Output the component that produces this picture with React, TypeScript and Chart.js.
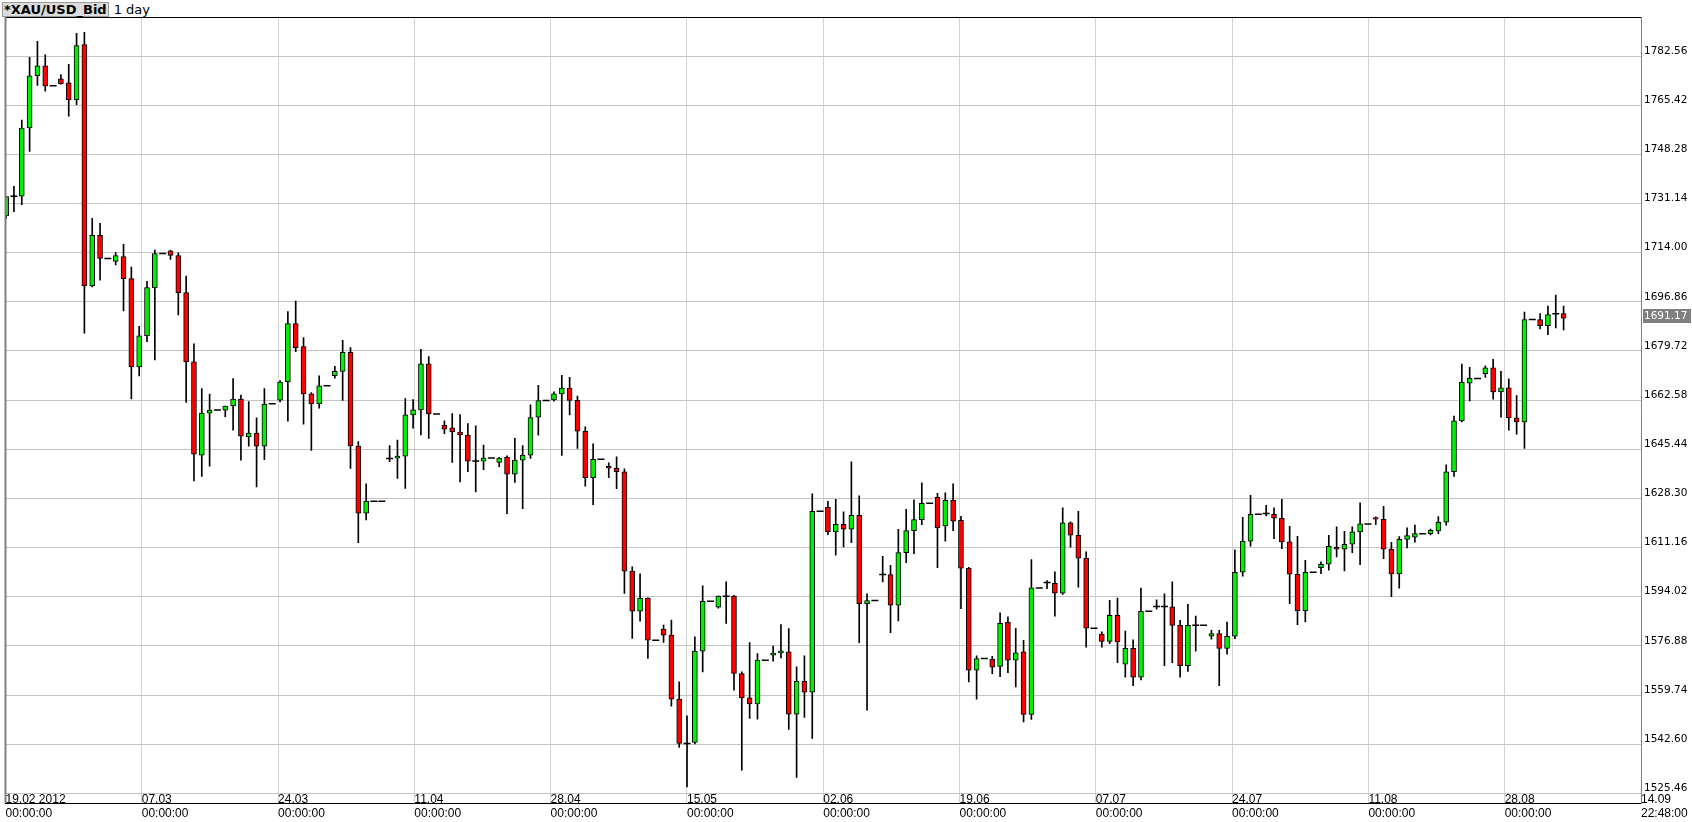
import React, { useEffect, useRef } from "react";
import { Chart, registerables } from "chart.js";

Chart.register(...registerables);

// ---- data: one candle per calendar day, starting 19.02.2012 (index 0) ----
const opens = [
  1726.79, 1733.67, 1733.67, 1757.47, 1775.68, 1779.18, 1772.18, 1774.63, 1773.23, 1767.27,
  1786.53, 1702.40, 1720.02, 1711.97, 1710.92, 1712.67, 1704.97, 1674.16, 1685.01, 1701.82,
  1713.72, 1714.65, 1713.02, 1700.07, 1675.91, 1643.36, 1658.06, 1659.11, 1659.11, 1660.51,
  1662.96, 1649.78, 1651.06, 1646.51, 1661.33, 1662.58, 1668.97, 1689.28, 1681.22, 1664.77,
  1661.27, 1667.57, 1671.07, 1672.59, 1679.24, 1646.57, 1623.12, 1627.32, 1627.32, 1642.25,
  1642.37, 1643.07, 1657.42, 1659.17, 1675.27, 1657.77, 1653.81, 1652.87, 1651.47, 1650.42,
  1641.32, 1641.32, 1642.37, 1640.85, 1642.72, 1636.77, 1641.67, 1643.42, 1656.61, 1662.44,
  1662.67, 1664.77, 1666.80, 1662.50, 1651.71, 1635.56, 1641.95, 1639.51, 1638.82, 1637.54,
  1602.91, 1588.97, 1593.50, 1578.86, 1582.69, 1580.60, 1558.29, 1542.83, 1543.18, 1575.02,
  1592.45, 1590.36, 1594.20, 1594.20, 1567.24, 1558.75, 1556.66, 1571.89, 1573.63, 1574.44,
  1574.79, 1553.06, 1564.57, 1560.73, 1623.83, 1625.22, 1616.61, 1619.28, 1617.54, 1622.42,
  1591.61, 1592.66, 1601.73, 1601.73, 1591.03, 1609.40, 1617.07, 1620.91, 1626.61, 1628.70,
  1618.70, 1627.65, 1620.68, 1603.94, 1568.36, 1572.43, 1572.20, 1569.75, 1585.10, 1571.85,
  1574.76, 1553.01, 1597.08, 1598.94, 1598.70, 1595.22, 1619.75, 1615.45, 1607.42, 1583.01,
  1581.03, 1578.47, 1587.54, 1570.50, 1576.00, 1566.00, 1588.94, 1590.57, 1590.57, 1590.45,
  1584.05, 1570.00, 1584.05, 1584.05, 1580.22, 1581.15, 1576.00, 1580.22, 1602.54, 1613.35,
  1622.77, 1623.00, 1622.77, 1621.37, 1613.12, 1601.84, 1589.17, 1602.54, 1604.17, 1605.33,
  1611.26, 1610.56, 1612.31, 1616.61, 1619.40, 1621.61, 1621.03, 1610.56, 1602.00, 1614.00,
  1614.80, 1616.00, 1616.00, 1617.00, 1620.00, 1637.60, 1655.32, 1668.51, 1670.14, 1671.77,
  1673.87, 1665.47, 1666.87, 1656.37, 1654.97, 1690.68, 1690.68, 1688.58, 1692.66, 1692.78,
];
const highs = [
  1733.60, 1737.17, 1760.27, 1782.09, 1787.69, 1783.03, 1772.18, 1776.14, 1779.64, 1790.49,
  1790.84, 1725.97, 1724.22, 1711.97, 1714.07, 1716.87, 1708.94, 1688.28, 1704.04, 1714.89,
  1713.72, 1714.89, 1713.96, 1705.79, 1682.22, 1666.58, 1664.71, 1659.11, 1660.51, 1670.08,
  1664.36, 1662.03, 1656.43, 1666.58, 1661.33, 1669.38, 1693.48, 1697.09, 1684.38, 1665.24,
  1671.07, 1667.57, 1674.34, 1683.44, 1680.87, 1648.09, 1633.39, 1627.32, 1627.32, 1646.69,
  1648.67, 1663.14, 1662.79, 1680.29, 1677.72, 1657.77, 1655.32, 1657.89, 1657.54, 1654.39,
  1653.57, 1646.92, 1642.37, 1642.60, 1643.19, 1649.26, 1646.69, 1660.92, 1667.69, 1662.44,
  1665.50, 1671.20, 1670.50, 1664.00, 1653.22, 1647.30, 1641.95, 1640.68, 1642.77, 1638.58,
  1604.42, 1601.98, 1593.60, 1578.86, 1584.09, 1585.83, 1564.33, 1552.48, 1580.02, 1597.80,
  1592.45, 1594.30, 1599.19, 1594.50, 1567.80, 1578.04, 1574.21, 1571.89, 1576.77, 1584.32,
  1582.93, 1569.56, 1573.40, 1629.87, 1623.83, 1627.31, 1628.00, 1623.58, 1641.02, 1629.16,
  1594.98, 1592.66, 1608.12, 1604.98, 1617.54, 1624.51, 1627.77, 1633.70, 1626.61, 1630.09,
  1630.21, 1633.35, 1622.07, 1604.28, 1573.36, 1572.43, 1573.24, 1588.36, 1586.96, 1583.01,
  1578.82, 1606.96, 1597.08, 1599.63, 1602.66, 1625.00, 1620.10, 1623.82, 1609.63, 1583.01,
  1581.73, 1592.77, 1593.50, 1582.00, 1579.00, 1597.00, 1588.94, 1592.89, 1594.98, 1599.17,
  1585.80, 1591.38, 1587.30, 1584.05, 1582.31, 1582.31, 1585.20, 1610.33, 1621.72, 1629.40,
  1622.77, 1625.91, 1624.98, 1628.00, 1618.58, 1615.10, 1606.73, 1602.54, 1606.14, 1615.44,
  1618.35, 1616.84, 1618.35, 1626.72, 1619.40, 1621.84, 1625.56, 1613.00, 1615.00, 1618.00,
  1619.00, 1616.00, 1617.60, 1622.00, 1640.00, 1657.00, 1675.16, 1674.00, 1670.14, 1674.57,
  1676.79, 1672.59, 1670.02, 1664.19, 1693.24, 1690.68, 1692.78, 1695.34, 1699.19, 1695.34,
];
const lows = [
  1725.85, 1728.30, 1730.76, 1749.31, 1772.29, 1770.31, 1772.18, 1772.76, 1761.56, 1765.64,
  1685.95, 1702.05, 1704.38, 1711.97, 1709.75, 1693.65, 1662.96, 1671.02, 1682.92, 1676.61,
  1713.72, 1711.62, 1692.25, 1661.80, 1634.38, 1636.01, 1639.51, 1659.11, 1656.78, 1652.11,
  1641.61, 1646.51, 1632.28, 1641.84, 1661.33, 1661.91, 1655.21, 1679.47, 1654.16, 1645.05,
  1659.76, 1667.57, 1670.26, 1662.44, 1638.75, 1612.90, 1620.80, 1627.32, 1627.32, 1641.09,
  1635.25, 1631.75, 1652.76, 1650.42, 1649.26, 1657.77, 1650.89, 1640.85, 1634.09, 1637.59,
  1630.59, 1638.29, 1642.37, 1639.34, 1623.00, 1633.85, 1624.75, 1642.25, 1650.31, 1662.44,
  1662.20, 1643.30, 1657.40, 1645.70, 1632.54, 1626.15, 1641.95, 1635.56, 1631.73, 1595.13,
  1579.44, 1585.48, 1572.47, 1578.86, 1578.04, 1555.85, 1541.44, 1527.70, 1542.70, 1567.82,
  1592.45, 1590.00, 1584.67, 1561.43, 1533.54, 1551.55, 1551.32, 1571.89, 1571.54, 1572.70,
  1547.72, 1531.00, 1551.90, 1544.58, 1623.83, 1615.69, 1608.47, 1611.38, 1612.89, 1577.99,
  1554.41, 1592.66, 1599.17, 1581.50, 1585.57, 1605.91, 1609.05, 1619.17, 1626.61, 1604.17,
  1613.35, 1617.07, 1589.87, 1564.29, 1558.25, 1572.43, 1567.20, 1566.15, 1567.55, 1562.55,
  1550.34, 1551.27, 1597.08, 1596.84, 1587.19, 1594.80, 1611.26, 1597.31, 1576.38, 1583.01,
  1576.38, 1577.66, 1571.00, 1566.00, 1563.00, 1565.00, 1588.94, 1589.64, 1570.00, 1571.00,
  1566.00, 1568.00, 1575.00, 1584.05, 1579.17, 1563.00, 1574.00, 1579.40, 1601.15, 1611.61,
  1622.77, 1622.19, 1614.28, 1610.79, 1591.61, 1584.29, 1585.22, 1602.54, 1602.08, 1603.24,
  1607.89, 1603.01, 1609.40, 1605.21, 1619.40, 1619.17, 1607.31, 1594.00, 1597.00, 1611.00,
  1613.00, 1616.00, 1615.60, 1616.00, 1619.00, 1636.00, 1655.00, 1662.32, 1670.14, 1670.49,
  1662.91, 1656.61, 1652.06, 1650.66, 1645.75, 1690.68, 1687.41, 1685.43, 1687.76, 1687.06,
];
const closes = [
  1733.55, 1733.67, 1757.47, 1775.68, 1779.18, 1772.18, 1772.18, 1772.88, 1767.27, 1786.18,
  1702.52, 1720.02, 1711.97, 1711.97, 1713.02, 1704.97, 1674.16, 1685.01, 1701.82, 1713.72,
  1713.72, 1713.02, 1700.07, 1675.91, 1643.71, 1658.06, 1659.11, 1659.11, 1660.51, 1662.96,
  1650.01, 1651.06, 1646.51, 1661.21, 1661.33, 1668.91, 1689.28, 1680.87, 1664.77, 1661.27,
  1667.57, 1667.57, 1672.59, 1679.24, 1646.57, 1623.12, 1627.32, 1627.32, 1627.32, 1642.25,
  1643.07, 1657.42, 1659.17, 1675.27, 1657.77, 1657.77, 1652.41, 1651.47, 1650.42, 1641.32,
  1641.32, 1642.37, 1642.37, 1642.37, 1636.77, 1641.67, 1643.42, 1656.49, 1662.44, 1662.44,
  1664.77, 1666.76, 1662.50, 1651.71, 1635.56, 1641.95, 1641.95, 1638.82, 1637.66, 1602.91,
  1588.97, 1593.50, 1578.86, 1578.86, 1580.60, 1558.29, 1542.83, 1542.83, 1575.02, 1592.45,
  1592.45, 1594.20, 1594.20, 1567.24, 1558.75, 1556.66, 1571.89, 1571.89, 1574.33, 1575.14,
  1553.06, 1564.57, 1560.73, 1623.83, 1623.83, 1616.62, 1619.28, 1617.54, 1622.42, 1591.61,
  1592.66, 1592.66, 1601.73, 1591.03, 1609.40, 1617.07, 1620.91, 1626.61, 1626.61, 1618.12,
  1627.65, 1620.33, 1603.94, 1568.36, 1572.43, 1572.43, 1569.41, 1584.75, 1571.85, 1574.41,
  1553.01, 1597.08, 1597.08, 1598.94, 1595.22, 1619.75, 1615.45, 1607.42, 1583.01, 1583.01,
  1578.47, 1587.54, 1578.24, 1576.00, 1566.00, 1588.94, 1588.94, 1590.57, 1590.57, 1584.05,
  1570.00, 1584.05, 1584.05, 1584.05, 1581.15, 1576.00, 1580.22, 1602.54, 1613.35, 1622.77,
  1622.77, 1623.00, 1621.37, 1613.12, 1601.84, 1589.17, 1602.54, 1602.54, 1605.33, 1611.61,
  1610.56, 1612.31, 1616.61, 1619.40, 1619.40, 1621.03, 1610.56, 1602.00, 1614.00, 1615.30,
  1616.00, 1616.00, 1617.20, 1620.00, 1637.60, 1655.32, 1668.74, 1670.14, 1670.14, 1673.87,
  1665.47, 1666.87, 1656.37, 1654.97, 1690.68, 1690.68, 1688.58, 1692.43, 1692.66, 1691.17,
];

// axis ticks
const yTicks = [1525.46, 1542.60, 1559.74, 1576.88, 1594.02, 1611.16, 1628.30, 1645.44, 1662.58, 1679.72, 1696.86, 1714.00, 1731.14, 1748.28, 1765.42, 1782.56];
const xTickDays = [-0.08, 17.33, 34.75, 52.16, 69.57, 86.99, 104.40, 121.82, 139.23, 156.64, 174.06, 191.47, 208.89];
const dateLabels = ["19.02 2012", "07.03", "24.03", "11.04", "28.04", "15.05", "02.06", "19.06", "07.07", "24.07", "11.08", "28.08", "14.09"];
const timeLabels = ["00:00:00", "00:00:00", "00:00:00", "00:00:00", "00:00:00", "00:00:00", "00:00:00", "00:00:00", "00:00:00", "00:00:00", "00:00:00", "00:00:00", "22:48:00"];
const X_MIN = -0.08;
const X_MAX = 208.89;
const Y_MIN = 1522.08;
const Y_MAX = 1796.18;

const UP = "#00f000";
const DOWN = "#ff0000";
const X_FONT = { family: "'Liberation Sans', Arial, sans-serif", size: 12 };
const Y_FONT = { family: "'DejaVu Sans', sans-serif", size: 10.5 };

const framePlugin = {
  id: "frame",
  afterDraw(chart: any) {
    const { ctx, chartArea: a } = chart;
    ctx.save();
    ctx.strokeStyle = "#000";
    ctx.lineWidth = 1;
    ctx.beginPath();
    ctx.moveTo(a.left, a.top + 0.5);
    ctx.lineTo(a.right, a.top + 0.5);
    ctx.stroke();
    ctx.strokeStyle = "#808080";
    ctx.lineWidth = 2;
    ctx.beginPath();
    ctx.moveTo(a.left, a.top);
    ctx.lineTo(a.left, a.bottom);
    ctx.stroke();
    ctx.restore();
  },
};

const priceTagPlugin = {
  id: "priceTag",
  afterDraw(chart: any) {
    const { ctx, chartArea: a, scales } = chart;
    const last = closes[closes.length - 1];
    const y = Math.round(scales.y.getPixelForValue(last) - 2);
    ctx.save();
    ctx.fillStyle = "#7f7f7f";
    ctx.fillRect(a.right + 2, y - 7, 48, 14);
    ctx.fillStyle = "#fff";
    ctx.font = "10.5px 'DejaVu Sans'";
    ctx.textBaseline = "middle";
    ctx.textAlign = "left";
    ctx.fillText(last.toFixed(2), a.right + 3, y + 0.5);
    ctx.restore();
  },
};

export default function App() {
  const ref = useRef<HTMLCanvasElement | null>(null);

  useEffect(() => {
    if (!ref.current) return;
    const idx = closes.map((_, i) => i);
    const isFlat = (i: number) => Math.abs(closes[i] - opens[i]) < 0.3;
    const bodies = idx.map((i) => (isFlat(i) ? { x: i, y: null } : { x: i, y: [opens[i], closes[i]] }));
    const bodyColors = idx.map((i) => (closes[i] >= opens[i] ? UP : DOWN));
    const wicks = idx.map((i) => ({ x: i, y: highs[i] - lows[i] > 0.2 ? [lows[i], highs[i]] : null }));
    const flats = idx.filter((i) => isFlat(i)).map((i) => ({ x: i, y: closes[i] }));

    const tickSetter = (s: any) => {
      s.ticks = xTickDays.map((v) => ({ value: v }));
    };

    const chart = new Chart(ref.current, {
      type: "bar",
      data: {
        datasets: [
          {
            type: "line",
            data: flats as any,
            showLine: false,
            pointStyle: "line",
            pointRadius: 3.5,
            pointBorderWidth: 1.5,
            pointBorderColor: "#000",
            pointBackgroundColor: "#000",
            xAxisID: "x",
            yAxisID: "y",
          } as any,
          {
            data: bodies as any,
            backgroundColor: bodyColors,
            borderColor: "#000",
            borderWidth: 1,
            borderSkipped: false,
            barThickness: 5,
            grouped: false,
            xAxisID: "x",
            yAxisID: "y",
          } as any,
          {
            data: wicks as any,
            backgroundColor: "#000",
            borderWidth: 0,
            barThickness: 1,
            grouped: false,
            xAxisID: "x",
            yAxisID: "y",
          } as any,
        ],
      },
      options: {
        animation: false,
        responsive: false,
        events: [],
        layout: { padding: { left: 3, top: 17, right: 0, bottom: 0 } },
        plugins: { legend: { display: false }, tooltip: { enabled: false }, title: { display: false } },
        scales: {
          x: {
            type: "linear",
            min: X_MIN,
            max: X_MAX,
            offset: false,
            afterBuildTicks: tickSetter,
            grid: { color: "#d2d2d2", drawTicks: false, offset: false },
            border: { color: "#000", width: 1 },
            ticks: {
              autoSkip: false,
              maxRotation: 0,
              align: "start",
              padding: 3,
              color: "#000",
              font: X_FONT,
              callback: (_v: any, i: number) => timeLabels[i],
            },
            afterFit: (s: any) => {
              s.height = 19;
            },
          },
          x2: {
            type: "linear",
            position: { y: yTicks[0] },
            min: X_MIN,
            max: X_MAX,
            offset: false,
            afterBuildTicks: tickSetter,
            grid: { display: false, drawTicks: false, offset: false },
            border: { display: false },
            ticks: {
              autoSkip: false,
              maxRotation: 0,
              align: "start",
              padding: -1,
              color: "#000",
              font: X_FONT,
              callback: (_v: any, i: number) => dateLabels[i],
            },
          },
          y: {
            type: "linear",
            position: "right",
            min: Y_MIN,
            max: Y_MAX,
            afterBuildTicks: (s: any) => {
              s.ticks = yTicks.map((v) => ({ value: v }));
            },
            grid: { color: "#c4c4c4", drawTicks: false },
            border: { color: "#808080", width: 1 },
            ticks: {
              color: "#000",
              padding: 3,
              labelOffset: -5,
              font: Y_FONT,
              callback: (v: any) => Number(v).toFixed(2),
            },
            afterFit: (s: any) => {
              s.width = 51;
            },
          },
        } as any,
      },
      plugins: [framePlugin, priceTagPlugin],
    });
    return () => chart.destroy();
  }, []);

  return (
    <div style={{ position: "absolute", left: 0, top: 0, width: 1692, height: 822, background: "#fff" }}>
      <div
        style={{
          position: "absolute",
          left: 2,
          top: 1,
          height: 16,
          display: "flex",
          alignItems: "center",
          fontFamily: "'DejaVu Sans', sans-serif",
          fontSize: 13,
          color: "#000",
          whiteSpace: "nowrap",
        }}
      >
        <span
          style={{
            fontWeight: "bold",
            background: "#dcdcdc",
            border: "1px solid #9a9a9a",
            lineHeight: "13px",
            padding: "0 1px",
          }}
        >
          *XAU/USD_Bid
        </span>
        <span style={{ marginLeft: 5 }}>1 day</span>
      </div>
      <canvas ref={ref} width={1692} height={822} style={{ position: "absolute", left: 0, top: 0 }} />
    </div>
  );
}
